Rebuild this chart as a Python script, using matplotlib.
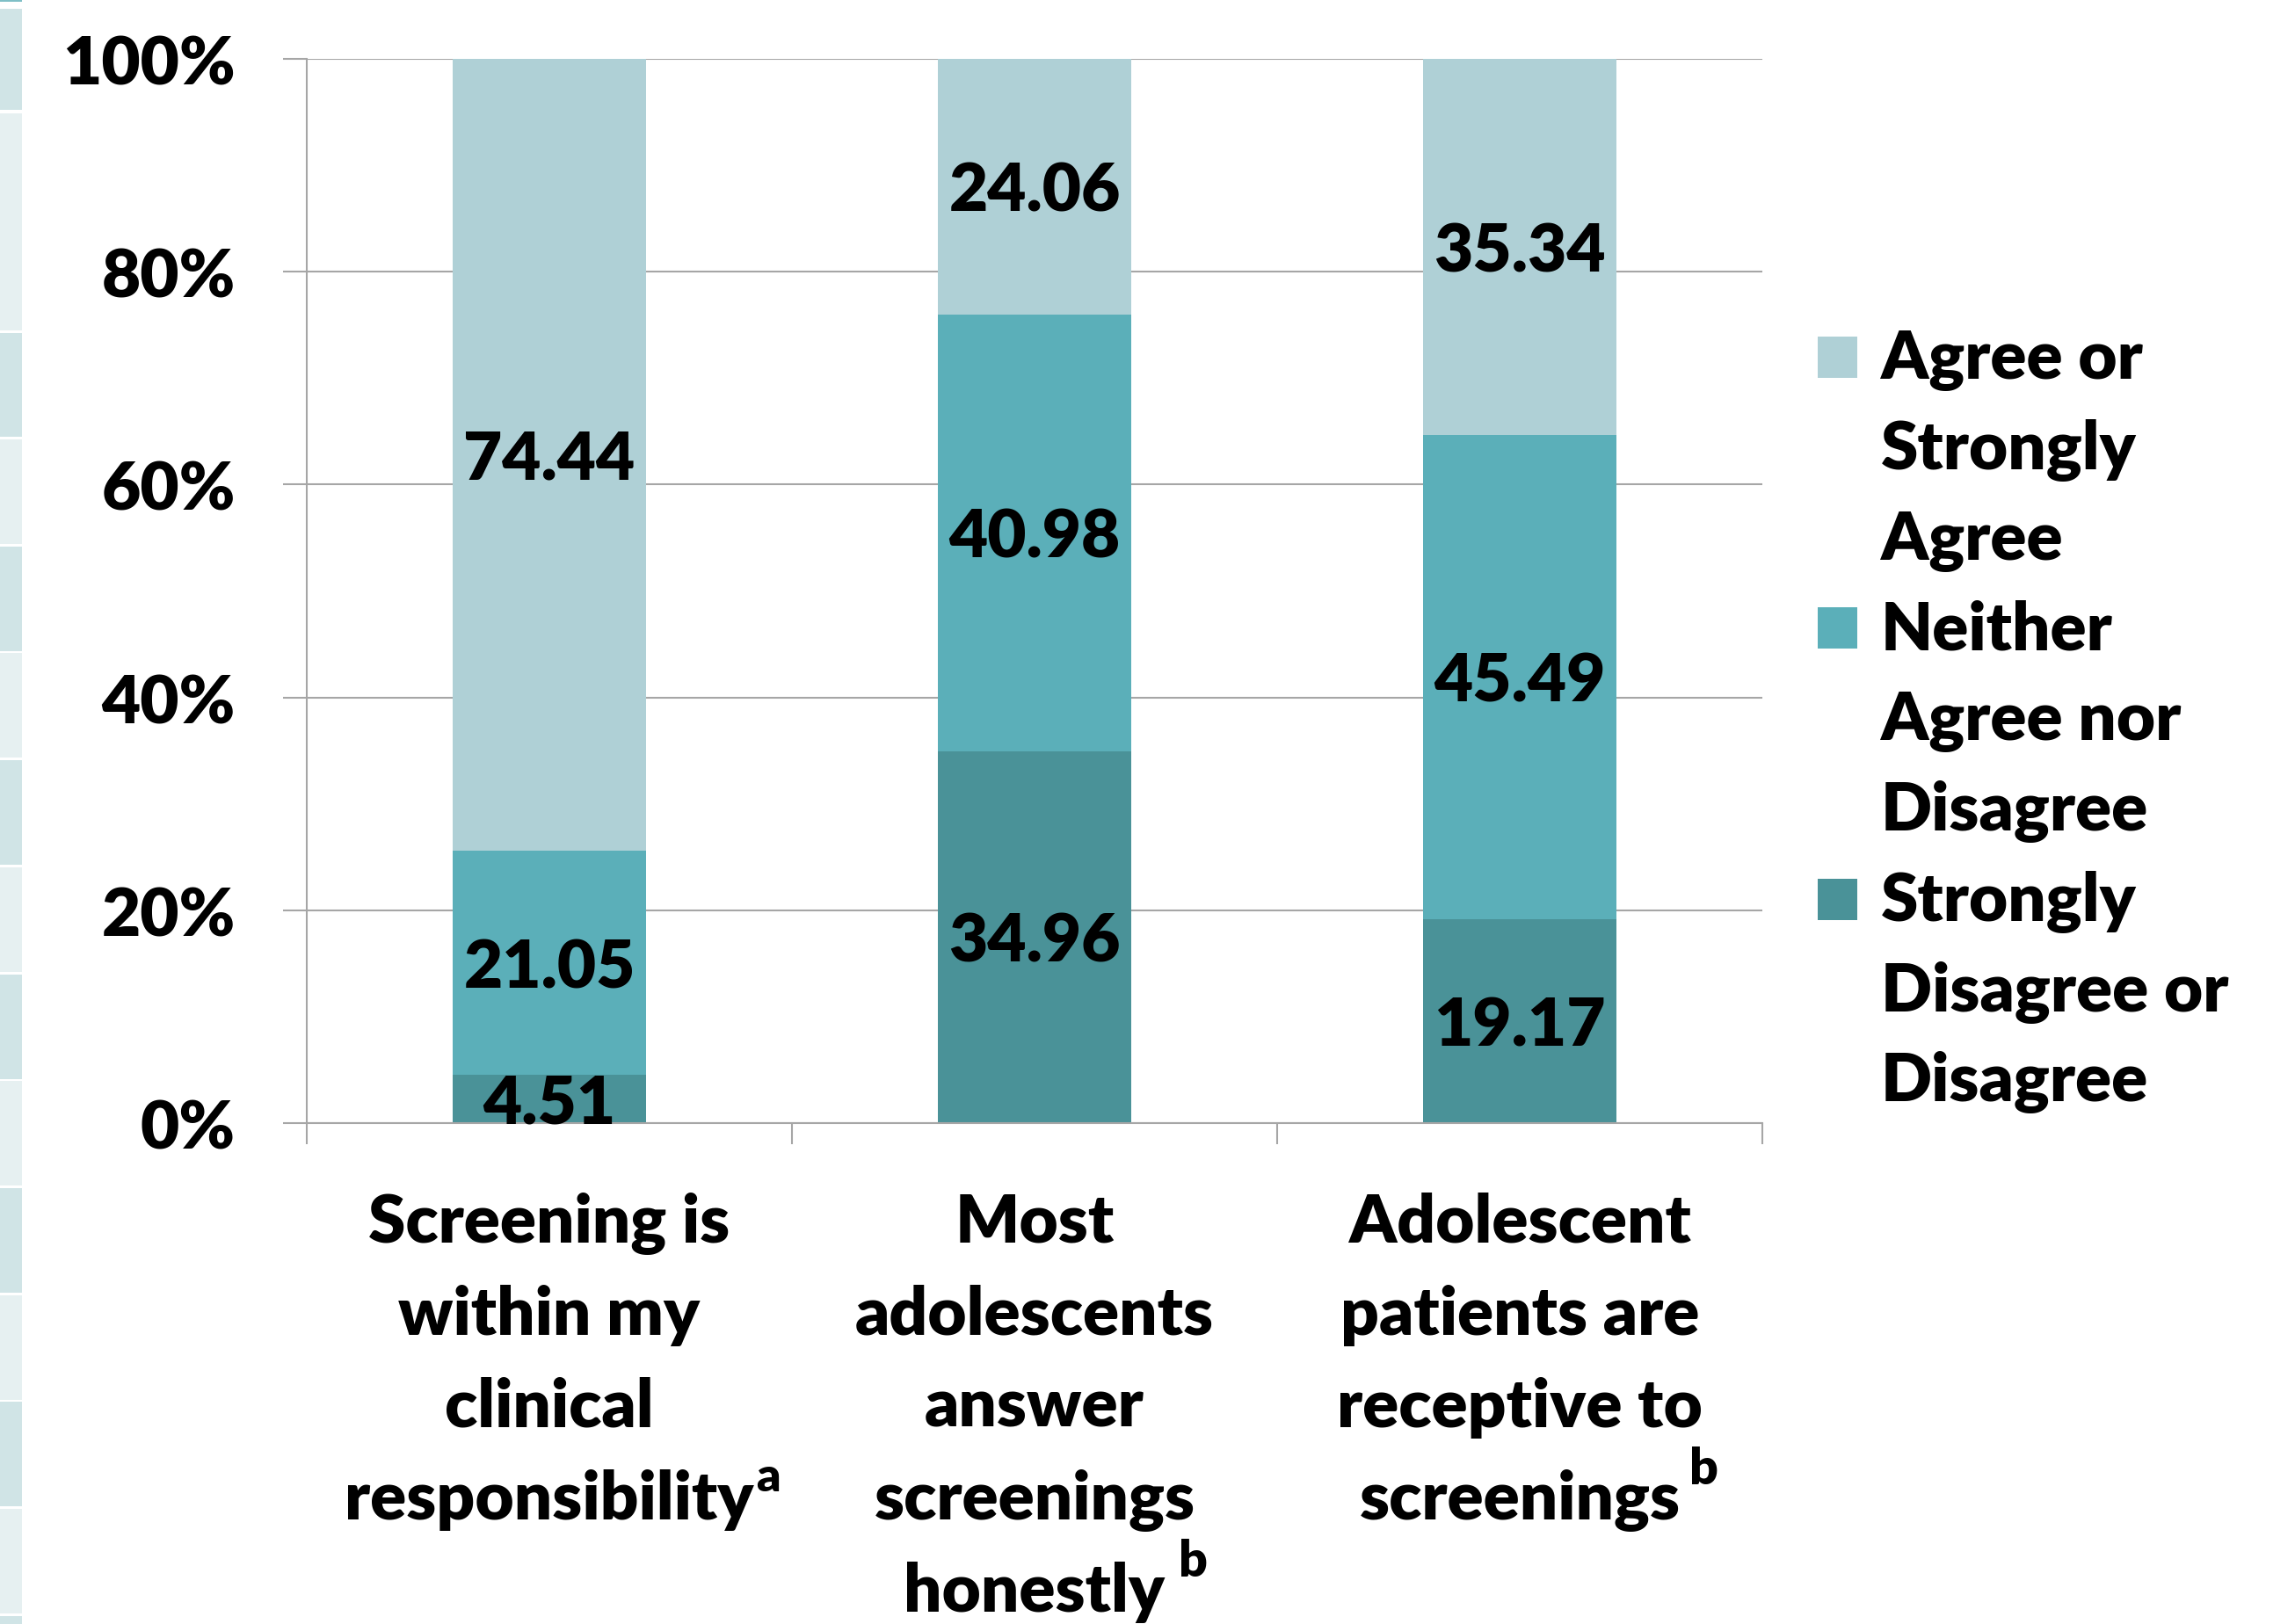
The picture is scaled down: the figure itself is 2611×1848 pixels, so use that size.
import matplotlib
matplotlib.use("Agg")
import matplotlib.pyplot as plt
from matplotlib.patches import Rectangle
from matplotlib import transforms
from matplotlib import font_manager
import numpy as np

# ---------------- data ----------------
categories = [
    "Screening is\nwithin my\nclinical\nresponsibility",
    "Most\nadolescents\nanswer\nscreenings\nhonestly",
    "Adolescent\npatients are\nreceptive to\nscreenings",
]
footnotes = ["a", "b", "b"]
series_names = [
    "Strongly\nDisagree or\nDisagree",
    "Neither\nAgree nor\nDisagree",
    "Agree or\nStrongly\nAgree",
]
disagree = [4.51, 34.96, 19.17]
neither = [21.05, 40.98, 45.49]
agree = [74.44, 24.06, 35.34]
y_ticks = [0, 20, 40, 60, 80, 100]
y_tick_labels = ["0%", "20%", "40%", "60%", "80%", "100%"]

# ---------------- style ----------------
W, H = 2611, 1849
DPI = 100
FONT = "Lato"
FS = 55
# pick the heaviest available Lato face
weights = sorted({f.weight for f in font_manager.fontManager.ttflist if f.name == FONT},
                 key=lambda w: font_manager.weight_dict.get(w, w) if isinstance(w, str) else w)
WEIGHT = 800 if any((w if isinstance(w, int) else font_manager.weight_dict.get(w, 400)) >= 800 for w in weights) else "bold"
colors = ["#4A9298", "#5BAFB9", "#AFD0D6"]  # disagree, neither, agree
grid_col = "#A6A6A6"

plt.rcParams["font.family"] = [FONT, "DejaVu Sans"]
plt.rcParams["font.weight"] = WEIGHT

fig = plt.figure(figsize=(W / DPI, H / DPI), dpi=DPI)
fig.patch.set_facecolor("white")

# decorative tile strip at the left edge (artifact of the source slide)
tile_edges = [(0, 3, "#7FBFC6"), (11, 126, "#D0E4E6"), (130, 377, "#E6F0F1"),
              (380, 498, "#D0E4E6")]
y0 = 501
k = 0
while y0 < H:
    tile_edges.append((y0, min(y0 + 119, H), "#E6F0F1" if k % 2 == 0 else "#D0E4E6"))
    y0 += 121.7
    k += 1
for top, bot, c in tile_edges:
    fig.patches.append(Rectangle((0, 1 - bot / H), 25 / W, (bot - top) / H,
                                 transform=fig.transFigure, facecolor=c,
                                 edgecolor="none", zorder=0))

ax_l, ax_r, ax_t, ax_b = 349, 2005, 68, 1279
ax = fig.add_axes([ax_l / W, 1 - ax_b / H, (ax_r - ax_l) / W, (ax_b - ax_t) / H])

x = np.arange(len(categories))
series = [disagree, neither, agree]
bottom = np.zeros(len(categories))
bw = 0.4
for vals, c in zip(series, colors):
    vals = np.array(vals)
    ax.bar(x, vals, bw, bottom=bottom, color=c, edgecolor="none", zorder=2)
    for xi, b, v in zip(x, bottom, vals):
        ax.annotate(f"{v:.2f}", (xi, b + v / 2), xytext=(0, -19.5),
                    textcoords="offset points", ha="center", va="baseline",
                    fontsize=FS, fontweight=WEIGHT, color="black", zorder=3)
    bottom = bottom + vals

ax.set_xlim(-0.5, len(categories) - 0.5)
ax.set_ylim(0, 100)
ax.set_yticks(y_ticks)
ax.set_yticklabels(y_tick_labels, fontsize=FS, fontweight=WEIGHT)
ax.yaxis.grid(True, color=grid_col, lw=1.5, zorder=0)
ax.set_axisbelow(True)
ax.tick_params(axis="y", direction="out", length=19.4, width=1.5,
               color=grid_col, pad=39)
ax.set_xticks(x)
ax.set_xticklabels([])
ax.set_xticks(np.arange(-0.5, len(categories)), minor=True)
ax.tick_params(axis="x", which="major", length=0)
ax.tick_params(axis="x", which="minor", direction="out", length=17,
               width=1.5, color=grid_col)
for s in ["top", "right"]:
    ax.spines[s].set_visible(False)
for s in ["left", "bottom"]:
    ax.spines[s].set_color(grid_col)
    ax.spines[s].set_linewidth(1.5)

# category labels, line by line
blend = transforms.blended_transform_factory(ax.transData, fig.transFigure)
first_base, pitch = 1414, 105
sup_gap = [2, 16, 10]
sup_raise = [32, 40, 40]
sup_scale = [0.7, 0.75, 0.75]
last_lines = []
for i, lab in enumerate(categories):
    lines = lab.split("\n")
    for j, ln in enumerate(lines):
        t = ax.text(x[i], 1 - (first_base + j * pitch) / H, ln, transform=blend,
                    ha="center", va="baseline", fontsize=FS, fontweight=WEIGHT)
    last_lines.append((t, first_base + (len(lines) - 1) * pitch))

fig.canvas.draw()
r = fig.canvas.get_renderer()
for i, (t, base) in enumerate(last_lines):
    bb = t.get_window_extent(r)
    fig.text((bb.x1 + sup_gap[i]) / W, 1 - (base - sup_raise[i]) / H, footnotes[i],
             ha="left", va="baseline", fontsize=FS * sup_scale[i], fontweight=WEIGHT)

# legend, drawn manually (top to bottom: agree, neither, disagree)
leg_base, leg_pitch = 431, 102.8
line_idx = 0
for name, c in zip(series_names[::-1], colors[::-1]):
    lines = name.split("\n")
    b0 = leg_base + line_idx * leg_pitch
    fig.patches.append(Rectangle((2068 / W, 1 - b0 / H), 45 / W, 47 / H,
                                 transform=fig.transFigure, facecolor=c,
                                 edgecolor="none"))
    for ln in lines:
        fig.text(2140 / W, 1 - (leg_base + line_idx * leg_pitch) / H, ln,
                 ha="left", va="baseline", fontsize=FS, fontweight=WEIGHT)
        line_idx += 1

fig.savefig("out.png", dpi=DPI, facecolor="white")
